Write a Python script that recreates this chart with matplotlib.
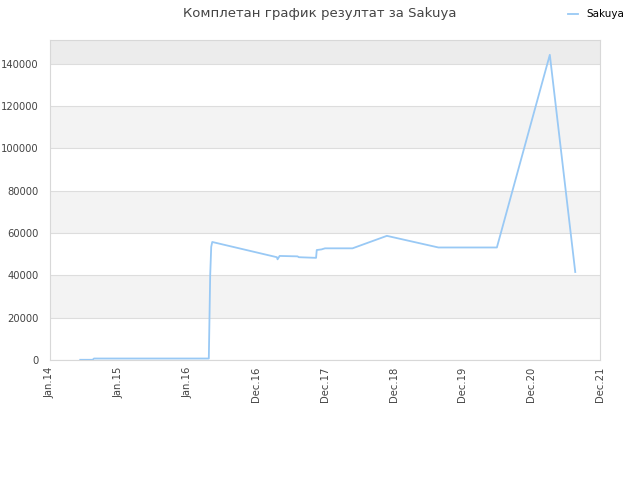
import numpy as np, matplotlib
matplotlib.use("Agg"); import matplotlib.pyplot as plt

# x in tick-interval units (0 = Jan.14, 8 = Dec.21)
x_pos=[0.44,0.62,0.64,1.5,2.31,2.33,2.345,2.36,3.3,3.31,3.34,3.6,3.62,3.87,3.88,3.95,4.0,4.4,4.9,5.65,6.5,7.27,7.64]
score=[100,100,700,700,700,40000,53500,55800,48600,47600,49200,49000,48600,48300,52000,52300,52800,52800,58700,53200,53200,144300,41600]
ticks=["Jan.14","Jan.15","Jan.16","Dec.16","Dec.17","Dec.18","Dec.19","Dec.20","Dec.21"]
yt=[0,20000,40000,60000,80000,100000,120000,140000]

fig=plt.figure(figsize=(6.4,4.8),dpi=100)
ax=fig.add_axes([50/640,120/480,550/640,320/480])
ymax=151300
for i,lo in enumerate(range(0,160000,20000)):
    if i%2==1: ax.axhspan(lo,min(lo+20000,ymax),color="#f3f3f3",lw=0,zorder=0)
ax.axhspan(140000,ymax,color="#ececec",lw=0,zorder=0)
for v in yt: ax.axhline(v,color="#dddddd",lw=0.8,zorder=1)
ax.plot(x_pos,score,color="#99c9f5",lw=1.3,label="Sakuya",zorder=3)
ax.set_xlim(0,8); ax.set_ylim(0,ymax)
ax.set_xticks(range(9)); ax.set_xticklabels(ticks,rotation=90,fontsize=7.2,color="#444444")
ax.set_yticks(yt); ax.set_yticklabels([str(v) for v in yt],fontsize=7.2,color="#444444")
for s in ax.spines.values(): s.set_color("#d8d8d8")
ax.tick_params(axis="y",length=0,pad=8)
ax.tick_params(axis="x",length=0,pad=5)
fig.suptitle("Комплетан график резултат за Sakuya",x=0.5,y=0.985,fontsize=9.5,color="#444444")
fig.legend(loc="upper right",bbox_to_anchor=(0.99,1.0),frameon=False,fontsize=7.5,handlelength=1.0)
fig.savefig("out.png",dpi=100)
